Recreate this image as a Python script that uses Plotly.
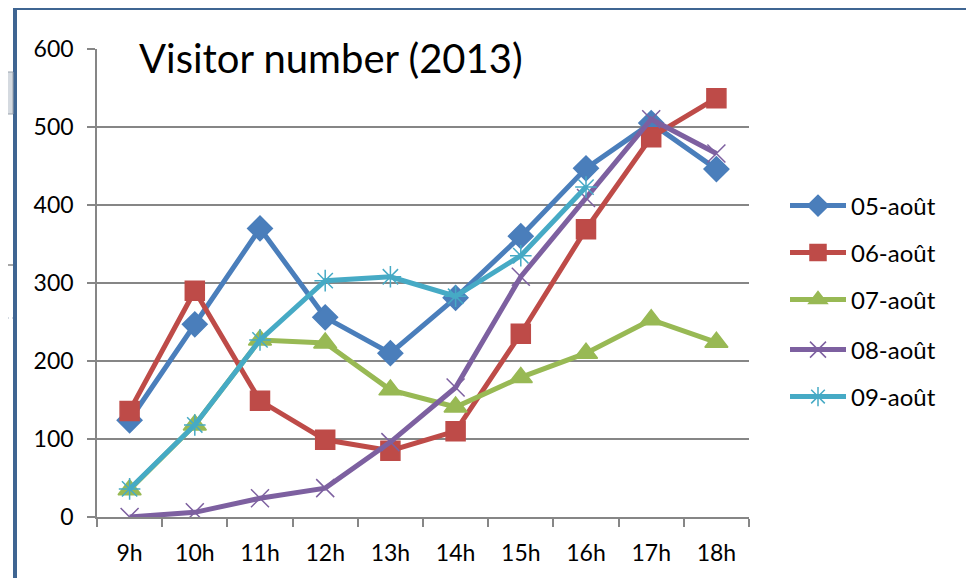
import plotly.graph_objects as go

hours = ["9h", "10h", "11h", "12h", "13h", "14h", "15h", "16h", "17h", "18h"]
days = ["05-août", "06-août", "07-août", "08-août", "09-août"]

aout_05 = [124, 247, 370, 256, 210, 281, 360, 447, 505, 446]
aout_06 = [136, 290, 149, 99, 85, 110, 235, 369, 487, 537]
aout_07 = [35, 118, 227, 223, 163, 141, 179, 210, 253, 224]
aout_08 = [0, 6, 24, 37, 96, 166, 308, 409, 510, 466]
aout_09 = [36, 118, 227, 303, 308, 283, 335, 423, None, None]

series = [aout_05, aout_06, aout_07, aout_08, aout_09]
colors = ["#4A7EBB", "#BE4B48", "#98B954", "#7D60A0", "#46AAC5"]
symbols = ["diamond", "square", "triangle-up", "x-thin-open", "asterisk-open"]
msizes = [19, 19, 20, 18, 18]

FONT = "Lato"
W, H = 974, 578
OFF = 8  # page body margin
# plot area in screen pixels: x 97..749, y 49..517
L, R, T, B = 97 - OFF, W + OFF - 749, 49 - OFF, H + OFF - 517
pw, ph = W - L - R, H - T - B


def px_x(p):
    return (p - OFF - L) / pw


def px_y(p):
    return (H - B - (p - OFF)) / ph


fig = go.Figure()

for i, (name, vals) in enumerate(zip(days, series)):
    fig.add_trace(go.Scatter(
        x=hours, y=vals, name=name, mode="lines+markers",
        line=dict(color=colors[i], width=5),
        marker=dict(symbol=symbols[i], size=msizes[i], color=colors[i],
                    line=dict(color=colors[i], width=1.5)),
        legend="legend" if i == 0 else f"legend{i + 1}",
        connectgaps=False,
    ))

legend_y = [206, 253, 300, 350, 397]
for i, yp in enumerate(legend_y):
    key = "legend" if i == 0 else f"legend{i + 1}"
    fig.update_layout({key: dict(
        x=px_x(785), xanchor="left", y=px_y(yp), yanchor="middle",
        font=dict(family=FONT, size=24, color="#000000"),
        bgcolor="rgba(0,0,0,0)", itemwidth=56,
    )})

grid = "#868686"
fig.update_layout(
    width=W, height=H,
    margin=dict(l=L, r=R, t=T, b=B),
    paper_bgcolor="white", plot_bgcolor="white",
    font=dict(family=FONT, size=23, color="#000000"),
    showlegend=True,
    xaxis=dict(
        type="category", tickson="boundaries", ticks="outside", ticklen=8,
        tickcolor=grid, tickwidth=1.5, showgrid=False,
        showline=True, linecolor=grid, linewidth=1.5,
        ticklabelstandoff=15, range=[-0.5, 9.5],
    ),
    yaxis=dict(
        range=[0, 600], dtick=100, ticks="outside", ticklen=8,
        tickcolor=grid, tickwidth=1.5, gridcolor=grid, gridwidth=1.5,
        showline=True, linecolor=grid, linewidth=1.5, zeroline=False,
        ticklabelstandoff=9,
    ),
)

# white box behind title, covering the top gridline
fig.add_shape(type="rect", xref="paper", yref="paper", layer="between",
              x0=px_x(121), x1=px_x(554), y0=px_y(36), y1=px_y(80),
              fillcolor="white", line=dict(width=0))
fig.add_annotation(text="Visitor number (2013)", xref="paper", yref="paper",
                   x=px_x(137), y=px_y(58), xanchor="left", yanchor="middle",
                   showarrow=False, font=dict(family=FONT, size=40, color="#000000"))

# chart frame (dark blue border on the left and top)
frame = "#3F6592"
fig.add_shape(type="line", xref="paper", yref="paper",
              x0=px_x(15), x1=px_x(15), y0=px_y(8), y1=px_y(600),
              line=dict(color=frame, width=4))
fig.add_shape(type="line", xref="paper", yref="paper",
              x0=px_x(15), x1=px_x(990), y0=px_y(8), y1=px_y(8),
              line=dict(color=frame, width=4))

# bits of the page behind the chart
fig.add_shape(type="rect", xref="paper", yref="paper",
              x0=px_x(0), x1=px_x(13), y0=px_y(72), y1=px_y(114),
              fillcolor="#D5DAE0", line=dict(color="#9AA3AD", width=1))
fig.add_shape(type="line", xref="paper", yref="paper",
              x0=px_x(0), x1=px_x(13), y0=px_y(265), y1=px_y(265),
              line=dict(color="#8A8A8A", width=1.5))
fig.add_shape(type="line", xref="paper", yref="paper",
              x0=px_x(0), x1=px_x(13), y0=px_y(318), y1=px_y(318),
              line=dict(color="#A8B4C4", width=1, dash="dot"))

fig.write_html("out.html")
